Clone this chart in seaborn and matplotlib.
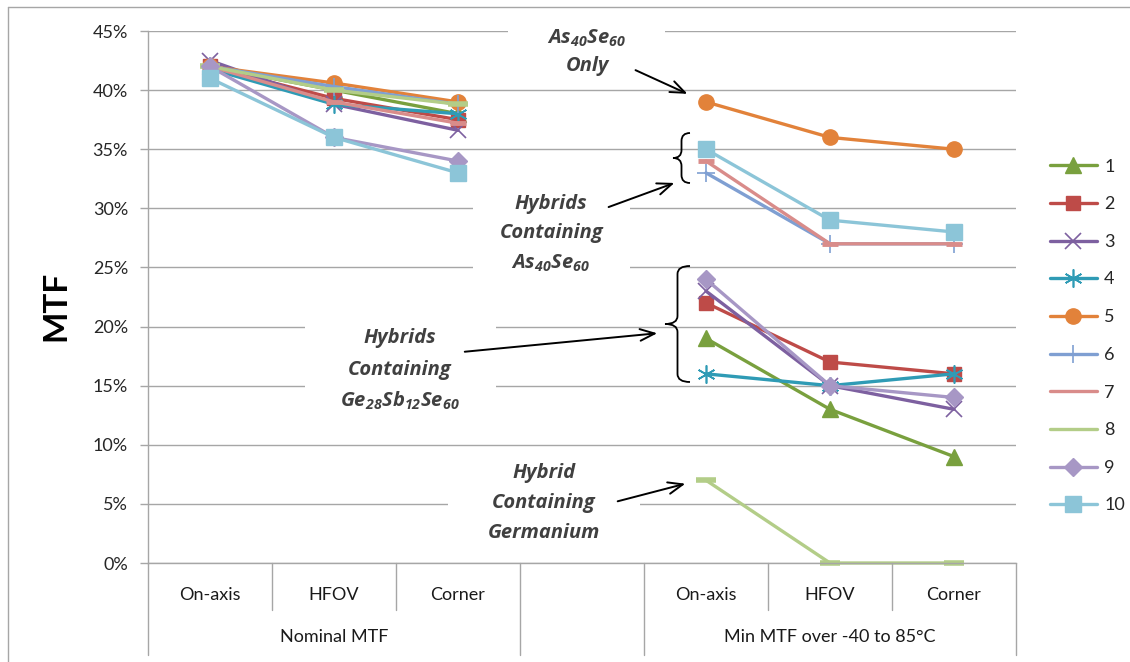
import numpy as np
import pandas as pd
import seaborn as sns
import matplotlib.pyplot as plt
import matplotlib.transforms as mtransforms
from matplotlib.path import Path
from matplotlib.patches import PathPatch, Rectangle, FancyArrowPatch
from matplotlib.lines import Line2D
from matplotlib.ticker import FuncFormatter

# chart data
categories = ["On-axis", "HFOV", "Corner"]
groups = ["Nominal MTF", "Min MTF over -40 to 85°C"]
series = ["1", "2", "3", "4", "5", "6", "7", "8", "9", "10"]

nominal_mtf = [
    [0.420, 0.400, 0.380],
    [0.420, 0.393, 0.375],
    [0.425, 0.388, 0.366],
    [0.418, 0.388, 0.380],
    [0.420, 0.406, 0.390],
    [0.420, 0.403, 0.388],
    [0.420, 0.390, 0.372],
    [0.420, 0.400, 0.388],
    [0.420, 0.360, 0.340],
    [0.410, 0.360, 0.330],
]
min_mtf = [
    [0.19, 0.13, 0.09],
    [0.22, 0.17, 0.16],
    [0.23, 0.15, 0.13],
    [0.16, 0.15, 0.16],
    [0.39, 0.36, 0.35],
    [0.33, 0.27, 0.27],
    [0.34, 0.27, 0.27],
    [0.07, 0.00, 0.00],
    [0.24, 0.15, 0.14],
    [0.35, 0.29, 0.28],
]

# styles
colors = ["#79A03E", "#BE4B48", "#7D60A0", "#2F9BB5", "#E2823A",
          "#7F9FD2", "#D98C8A", "#B3CD88", "#A797C5", "#8CC5D8"]
markers = ["^", "s", "x", (6, 2, 0), "o", "+", "_", "_", "D", "s"]
msizes = [11, 10, 11, 13, 11, 13, 12, 14, 9, 11]
mews = [1, 1, 1.2, 1.2, 1, 1.2, 3.5, 4, 1, 1]

sns.set_style("white")
plt.rcParams['font.family'] = ['Lato', 'DejaVu Sans']
plt.rcParams['mathtext.default'] = 'regular'

W, H = 1130, 662
fig = plt.figure(figsize=(W / 100, H / 100), dpi=100)
ax = fig.add_axes([148 / W, 1 - 563 / H, 868 / W, 532 / H])
# pixel coords, origin top-left
pxt = mtransforms.Affine2D().scale(1 / W, -1 / H).translate(0, 1) + fig.transFigure

x_nom = list(range(len(categories)))
x_min = [v + len(categories) + 1 for v in x_nom]

for i, name in enumerate(series):
    style = dict(color=colors[i], marker=markers[i], markersize=msizes[i],
                 markeredgewidth=mews[i], markeredgecolor=colors[i],
                 linewidth=2.4, clip_on=False)
    sns.lineplot(x=x_nom, y=nominal_mtf[i], ax=ax, label=name, errorbar=None, **style)
    sns.lineplot(x=x_min, y=min_mtf[i], ax=ax, label='_nolegend_', errorbar=None, **style)

ax.set_xlim(-0.5, 6.5)
ax.set_ylim(0, 0.45)
ax.set_yticks(np.arange(0, 0.451, 0.05))
ax.yaxis.set_major_formatter(FuncFormatter(lambda v, _: f"{v * 100:.0f}%"))
ax.set_xticks([])
ax.set_xlabel("")
ax.set_ylabel("")
ax.set_axisbelow(True)
ax.yaxis.grid(True, color='#A6A6A6', linewidth=1)
ax.tick_params(axis='y', left=True, length=5.8, width=1, color='#A6A6A6',
               pad=8.6, labelsize=13, labelcolor='#262626')
for side in ['top', 'right']:
    ax.spines[side].set_visible(False)
for side in ['left', 'bottom']:
    ax.spines[side].set_color('#A6A6A6')
    ax.spines[side].set_linewidth(1)

# category axis with group labels
xt = ax.get_xaxis_transform()
for b in [-0.5, 2.5, 3.5, 6.5]:
    ax.plot([b, b], [0, -0.173], transform=xt, color='#A6A6A6', lw=1, clip_on=False)
for b in [0.5, 1.5, 4.5, 5.5]:
    ax.plot([b, b], [0, -0.088], transform=xt, color='#A6A6A6', lw=1, clip_on=False)
for xs in (x_nom, x_min):
    for xv, lab in zip(xs, categories):
        ax.text(xv, -0.060, lab, transform=xt, ha='center', va='center',
                fontsize=13, color='#1a1a1a')
ax.text(np.mean(x_nom), -0.139, groups[0], transform=xt, ha='center', va='center',
        fontsize=13, color='#1a1a1a')
ax.text(np.mean(x_min), -0.139, groups[1], transform=xt, ha='center', va='center',
        fontsize=13, color='#1a1a1a')

fig.text(56, 306, "MTF", transform=pxt, rotation=90, ha='center', va='center',
         fontsize=24, fontweight='bold', color='black')

leg = ax.legend(loc='center left', bbox_to_anchor=(1050 / W, 1 - 336 / H),
                bbox_transform=fig.transFigure, frameon=False, fontsize=13,
                labelspacing=1.2, handlelength=2.6, handletextpad=0.4,
                borderpad=0, borderaxespad=0)
for ln in leg.get_lines()[6:8]:
    ln.set_marker('')

# white boxes behind the callouts
for x0, y0, x1, y1 in [(508, 20, 665, 82), (473, 185, 630, 285),
                       (305, 318, 496, 415), (448, 455, 640, 550)]:
    fig.add_artist(Rectangle((x0, y0), x1 - x0, y1 - y0, transform=pxt,
                             facecolor='white', edgecolor='none', zorder=1))

notes = [
    (587, 38, "As$_{40}$Se$_{60}$"), (587, 66, "Only"),
    (551, 204, "Hybrids"), (552, 233, "Containing"), (551, 263, "As$_{40}$Se$_{60}$"),
    (400, 338, "Hybrids"), (400, 370, "Containing"), (400, 401, "Ge$_{28}$Sb$_{12}$Se$_{60}$"),
    (544, 473, "Hybrid"), (544, 503, "Containing"), (544, 533, "Germanium"),
]
for x, y, s in notes:
    fig.text(x, y, s, transform=pxt, ha='center', va='center', fontsize=14.5,
             family=['Open Sans', 'DejaVu Sans'], fontweight='bold',
             fontstyle='italic', color='#404040', zorder=3)

for a, b in [((633, 69), (690, 95)), ((606, 208), (677, 182)),
             ((462, 352), (660, 333)), ((615, 502), (688, 483))]:
    fig.add_artist(FancyArrowPatch(a, b, transform=pxt,
                                   arrowstyle='->,head_length=0.75,head_width=0.3',
                                   mutation_scale=14, lw=1.4, color='black', zorder=2))


def brace(x_tip, x_end, y_top, y_bot, r=8):
    xm = (x_tip + x_end) / 2
    yc = (y_top + y_bot) / 2
    verts = [(x_end, y_top), (xm, y_top), (xm, y_top + r),
             (xm, yc - r), (xm, yc), (x_tip, yc),
             (xm, yc), (xm, yc + r),
             (xm, y_bot - r), (xm, y_bot), (x_end, y_bot)]
    codes = [Path.MOVETO, Path.CURVE3, Path.CURVE3,
             Path.LINETO, Path.CURVE3, Path.CURVE3,
             Path.CURVE3, Path.CURVE3,
             Path.LINETO, Path.CURVE3, Path.CURVE3]
    fig.add_artist(PathPatch(Path(verts, codes), transform=pxt, facecolor='none',
                             edgecolor='black', lw=1.3, zorder=2))


brace(673, 690, 133, 183)
brace(665, 690, 266, 382)

# outer chart border (left and top visible)
fig.add_artist(Line2D([8, 8], [7, H], transform=pxt, color='#A6A6A6', lw=1))
fig.add_artist(Line2D([8, W], [7, 7], transform=pxt, color='#A6A6A6', lw=1))

fig.savefig("out.png", dpi=100)
